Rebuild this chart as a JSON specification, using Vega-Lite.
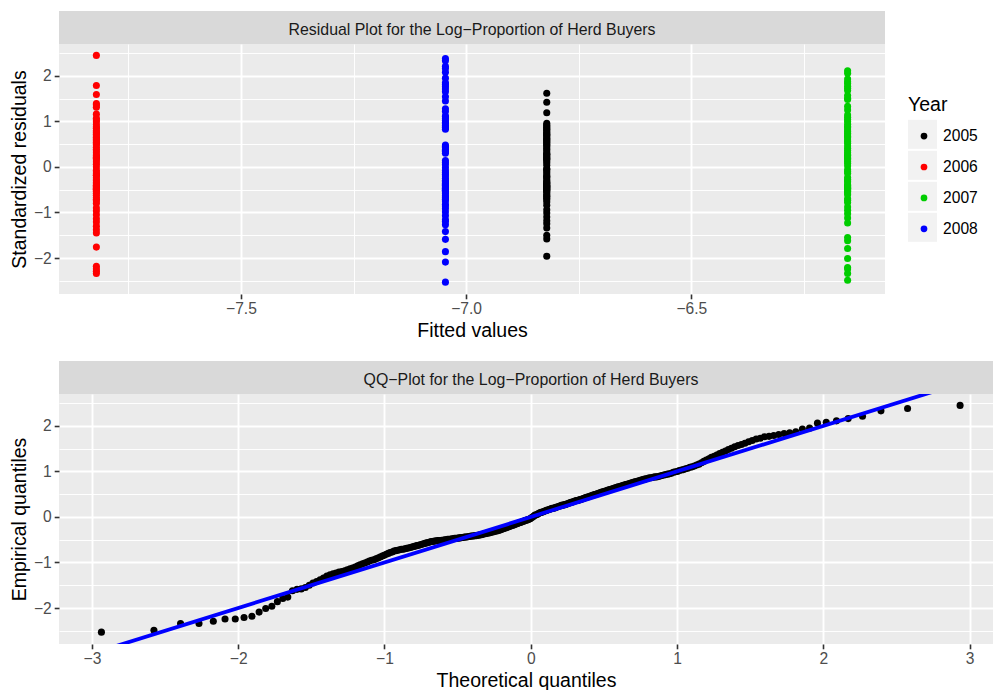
{
  "$schema": "https://vega.github.io/schema/vega-lite/v6.json",
  "background": "white",
  "padding": {"left": 9, "top": 21, "right": 0, "bottom": 0},
  "datasets": {
    "fits": [
      {"Year": "2005", "fitted": -6.821},
      {"Year": "2006", "fitted": -7.821},
      {"Year": "2007", "fitted": -6.153},
      {"Year": "2008", "fitted": -7.046}
    ],
    "qqline": [
      {"tq": -3.225, "res": -3.225},
      {"tq": 3.16, "res": 3.16}
    ],
    "resid": [
      {"Year":"2008","res":-2.53,"tq":-2.935},{"Year":"2007","res":-2.49,"tq":-2.576},{"Year":"2006","res":-2.34,"tq":-2.394},{"Year":"2007","res":-2.34,"tq":-2.268},
      {"Year":"2006","res":-2.29,"tq":-2.17},{"Year":"2007","res":-2.24,"tq":-2.09},{"Year":"2006","res":-2.24,"tq":-2.02},{"Year":"2007","res":-2.21,"tq":-1.96},
      {"Year":"2006","res":-2.18,"tq":-1.906},{"Year":"2008","res":-2.09,"tq":-1.857},{"Year":"2007","res":-2.01,"tq":-1.812},{"Year":"2005","res":-1.96,"tq":-1.77},
      {"Year":"2008","res":-1.86,"tq":-1.732},{"Year":"2007","res":-1.79,"tq":-1.695},{"Year":"2006","res":-1.76,"tq":-1.661},{"Year":"2007","res":-1.62,"tq":-1.629},
      {"Year":"2008","res":-1.59,"tq":-1.598},{"Year":"2005","res":-1.58,"tq":-1.569},{"Year":"2007","res":-1.55,"tq":-1.541},{"Year":"2005","res":-1.5,"tq":-1.514},
      {"Year":"2006","res":-1.45,"tq":-1.489},{"Year":"2008","res":-1.42,"tq":-1.464},{"Year":"2006","res":-1.38,"tq":-1.44},{"Year":"2005","res":-1.34,"tq":-1.417},
      {"Year":"2006","res":-1.3,"tq":-1.394},{"Year":"2008","res":-1.27,"tq":-1.372},{"Year":"2005","res":-1.25,"tq":-1.351},{"Year":"2007","res":-1.23,"tq":-1.331},
      {"Year":"2006","res":-1.21,"tq":-1.311},{"Year":"2008","res":-1.2,"tq":-1.291},{"Year":"2005","res":-1.18,"tq":-1.272},{"Year":"2008","res":-1.16,"tq":-1.254},
      {"Year":"2006","res":-1.14,"tq":-1.235},{"Year":"2007","res":-1.12,"tq":-1.218},{"Year":"2005","res":-1.1,"tq":-1.2},{"Year":"2008","res":-1.07,"tq":-1.183},
      {"Year":"2006","res":-1.05,"tq":-1.167},{"Year":"2007","res":-1.03,"tq":-1.15},{"Year":"2005","res":-1.01,"tq":-1.134},{"Year":"2008","res":-0.99,"tq":-1.118},
      {"Year":"2006","res":-0.97,"tq":-1.103},{"Year":"2007","res":-0.95,"tq":-1.088},{"Year":"2005","res":-0.94,"tq":-1.073},{"Year":"2008","res":-0.92,"tq":-1.058},
      {"Year":"2006","res":-0.9,"tq":-1.044},{"Year":"2007","res":-0.88,"tq":-1.03},{"Year":"2008","res":-0.86,"tq":-1.015},{"Year":"2005","res":-0.84,"tq":-1.002},
      {"Year":"2008","res":-0.82,"tq":-0.988},{"Year":"2006","res":-0.8,"tq":-0.974},{"Year":"2007","res":-0.78,"tq":-0.961},{"Year":"2005","res":-0.77,"tq":-0.948},
      {"Year":"2008","res":-0.75,"tq":-0.935},{"Year":"2006","res":-0.74,"tq":-0.922},{"Year":"2007","res":-0.73,"tq":-0.909},{"Year":"2005","res":-0.72,"tq":-0.896},
      {"Year":"2008","res":-0.71,"tq":-0.884},{"Year":"2006","res":-0.71,"tq":-0.872},{"Year":"2007","res":-0.7,"tq":-0.86},{"Year":"2005","res":-0.69,"tq":-0.848},
      {"Year":"2008","res":-0.68,"tq":-0.836},{"Year":"2006","res":-0.67,"tq":-0.824},{"Year":"2008","res":-0.66,"tq":-0.812},{"Year":"2005","res":-0.65,"tq":-0.801},
      {"Year":"2005","res":-0.64,"tq":-0.789},{"Year":"2008","res":-0.63,"tq":-0.778},{"Year":"2006","res":-0.62,"tq":-0.766},{"Year":"2007","res":-0.61,"tq":-0.755},
      {"Year":"2005","res":-0.6,"tq":-0.744},{"Year":"2008","res":-0.59,"tq":-0.733},{"Year":"2006","res":-0.58,"tq":-0.722},{"Year":"2007","res":-0.57,"tq":-0.712},
      {"Year":"2005","res":-0.56,"tq":-0.701},{"Year":"2008","res":-0.55,"tq":-0.69},{"Year":"2006","res":-0.54,"tq":-0.68},{"Year":"2007","res":-0.54,"tq":-0.669},
      {"Year":"2005","res":-0.53,"tq":-0.659},{"Year":"2008","res":-0.53,"tq":-0.649},{"Year":"2006","res":-0.52,"tq":-0.638},{"Year":"2007","res":-0.52,"tq":-0.628},
      {"Year":"2008","res":-0.52,"tq":-0.618},{"Year":"2005","res":-0.51,"tq":-0.608},{"Year":"2008","res":-0.51,"tq":-0.598},{"Year":"2006","res":-0.5,"tq":-0.588},
      {"Year":"2007","res":-0.5,"tq":-0.578},{"Year":"2005","res":-0.49,"tq":-0.568},{"Year":"2008","res":-0.49,"tq":-0.558},{"Year":"2006","res":-0.49,"tq":-0.549},
      {"Year":"2007","res":-0.48,"tq":-0.539},{"Year":"2005","res":-0.48,"tq":-0.529},{"Year":"2008","res":-0.47,"tq":-0.52},{"Year":"2006","res":-0.47,"tq":-0.51},
      {"Year":"2007","res":-0.47,"tq":-0.501},{"Year":"2005","res":-0.46,"tq":-0.491},{"Year":"2008","res":-0.46,"tq":-0.482},{"Year":"2006","res":-0.45,"tq":-0.473},
      {"Year":"2007","res":-0.45,"tq":-0.463},{"Year":"2005","res":-0.44,"tq":-0.454},{"Year":"2005","res":-0.44,"tq":-0.445},{"Year":"2008","res":-0.44,"tq":-0.436},
      {"Year":"2006","res":-0.43,"tq":-0.426},{"Year":"2007","res":-0.43,"tq":-0.417},{"Year":"2005","res":-0.42,"tq":-0.408},{"Year":"2008","res":-0.42,"tq":-0.399},
      {"Year":"2006","res":-0.42,"tq":-0.39},{"Year":"2007","res":-0.41,"tq":-0.381},{"Year":"2005","res":-0.41,"tq":-0.372},{"Year":"2008","res":-0.4,"tq":-0.364},
      {"Year":"2006","res":-0.4,"tq":-0.355},{"Year":"2007","res":-0.39,"tq":-0.346},{"Year":"2005","res":-0.39,"tq":-0.337},{"Year":"2008","res":-0.38,"tq":-0.328},
      {"Year":"2006","res":-0.37,"tq":-0.319},{"Year":"2008","res":-0.37,"tq":-0.311},{"Year":"2005","res":-0.36,"tq":-0.302},{"Year":"2005","res":-0.35,"tq":-0.293},
      {"Year":"2008","res":-0.35,"tq":-0.285},{"Year":"2006","res":-0.34,"tq":-0.276},{"Year":"2007","res":-0.33,"tq":-0.267},{"Year":"2005","res":-0.33,"tq":-0.259},
      {"Year":"2008","res":-0.32,"tq":-0.25},{"Year":"2006","res":-0.31,"tq":-0.241},{"Year":"2007","res":-0.31,"tq":-0.233},{"Year":"2005","res":-0.3,"tq":-0.224},
      {"Year":"2008","res":-0.29,"tq":-0.215},{"Year":"2006","res":-0.28,"tq":-0.207},{"Year":"2007","res":-0.27,"tq":-0.198},{"Year":"2005","res":-0.26,"tq":-0.189},
      {"Year":"2008","res":-0.25,"tq":-0.181},{"Year":"2006","res":-0.24,"tq":-0.172},{"Year":"2007","res":-0.23,"tq":-0.164},{"Year":"2005","res":-0.22,"tq":-0.155},
      {"Year":"2005","res":-0.21,"tq":-0.147},{"Year":"2008","res":-0.2,"tq":-0.138},{"Year":"2006","res":-0.19,"tq":-0.13},{"Year":"2006","res":-0.18,"tq":-0.121},
      {"Year":"2005","res":-0.17,"tq":-0.113},{"Year":"2008","res":-0.16,"tq":-0.105},{"Year":"2006","res":-0.15,"tq":-0.096},{"Year":"2007","res":-0.14,"tq":-0.088},
      {"Year":"2005","res":-0.13,"tq":-0.08},{"Year":"2008","res":-0.12,"tq":-0.071},{"Year":"2006","res":-0.11,"tq":-0.063},{"Year":"2007","res":-0.1,"tq":-0.054},
      {"Year":"2005","res":-0.09,"tq":-0.046},{"Year":"2008","res":-0.08,"tq":-0.038},{"Year":"2006","res":-0.07,"tq":-0.029},{"Year":"2007","res":-0.06,"tq":-0.021},
      {"Year":"2005","res":-0.05,"tq":-0.013},{"Year":"2005","res":-0.04,"tq":-0.004},{"Year":"2008","res":-0.02,"tq":0.004},{"Year":"2006","res":0.0,"tq":0.013},
      {"Year":"2007","res":0.02,"tq":0.021},{"Year":"2005","res":0.04,"tq":0.029},{"Year":"2008","res":0.05,"tq":0.038},{"Year":"2006","res":0.06,"tq":0.046},
      {"Year":"2007","res":0.08,"tq":0.054},{"Year":"2005","res":0.09,"tq":0.063},{"Year":"2008","res":0.1,"tq":0.071},{"Year":"2006","res":0.11,"tq":0.08},
      {"Year":"2007","res":0.12,"tq":0.088},{"Year":"2005","res":0.13,"tq":0.096},{"Year":"2008","res":0.14,"tq":0.105},{"Year":"2006","res":0.15,"tq":0.113},
      {"Year":"2007","res":0.16,"tq":0.121},{"Year":"2005","res":0.17,"tq":0.13},{"Year":"2005","res":0.18,"tq":0.138},{"Year":"2006","res":0.19,"tq":0.147},
      {"Year":"2007","res":0.19,"tq":0.155},{"Year":"2005","res":0.2,"tq":0.164},{"Year":"2006","res":0.21,"tq":0.172},{"Year":"2007","res":0.22,"tq":0.181},
      {"Year":"2005","res":0.23,"tq":0.189},{"Year":"2006","res":0.24,"tq":0.198},{"Year":"2007","res":0.25,"tq":0.207},{"Year":"2005","res":0.26,"tq":0.215},
      {"Year":"2006","res":0.26,"tq":0.224},{"Year":"2007","res":0.27,"tq":0.233},{"Year":"2005","res":0.28,"tq":0.241},{"Year":"2005","res":0.29,"tq":0.25},
      {"Year":"2008","res":0.3,"tq":0.259},{"Year":"2006","res":0.31,"tq":0.267},{"Year":"2007","res":0.32,"tq":0.276},{"Year":"2005","res":0.33,"tq":0.285},
      {"Year":"2008","res":0.34,"tq":0.293},{"Year":"2006","res":0.35,"tq":0.302},{"Year":"2008","res":0.36,"tq":0.311},{"Year":"2007","res":0.36,"tq":0.319},
      {"Year":"2005","res":0.37,"tq":0.328},{"Year":"2008","res":0.38,"tq":0.337},{"Year":"2006","res":0.39,"tq":0.346},{"Year":"2005","res":0.4,"tq":0.355},
      {"Year":"2007","res":0.41,"tq":0.364},{"Year":"2008","res":0.42,"tq":0.372},{"Year":"2006","res":0.43,"tq":0.381},{"Year":"2005","res":0.44,"tq":0.39},
      {"Year":"2008","res":0.45,"tq":0.399},{"Year":"2007","res":0.46,"tq":0.408},{"Year":"2005","res":0.47,"tq":0.417},{"Year":"2008","res":0.48,"tq":0.426},
      {"Year":"2006","res":0.49,"tq":0.436},{"Year":"2005","res":0.5,"tq":0.445},{"Year":"2006","res":0.51,"tq":0.454},{"Year":"2007","res":0.52,"tq":0.463},
      {"Year":"2005","res":0.53,"tq":0.473},{"Year":"2006","res":0.54,"tq":0.482},{"Year":"2005","res":0.55,"tq":0.491},{"Year":"2007","res":0.56,"tq":0.501},
      {"Year":"2006","res":0.57,"tq":0.51},{"Year":"2005","res":0.58,"tq":0.52},{"Year":"2007","res":0.59,"tq":0.529},{"Year":"2006","res":0.6,"tq":0.539},
      {"Year":"2005","res":0.61,"tq":0.549},{"Year":"2006","res":0.62,"tq":0.558},{"Year":"2005","res":0.63,"tq":0.568},{"Year":"2007","res":0.64,"tq":0.578},
      {"Year":"2006","res":0.65,"tq":0.588},{"Year":"2005","res":0.66,"tq":0.598},{"Year":"2007","res":0.67,"tq":0.608},{"Year":"2006","res":0.68,"tq":0.618},
      {"Year":"2005","res":0.69,"tq":0.628},{"Year":"2007","res":0.7,"tq":0.638},{"Year":"2005","res":0.71,"tq":0.649},{"Year":"2006","res":0.72,"tq":0.659},
      {"Year":"2005","res":0.73,"tq":0.669},{"Year":"2007","res":0.74,"tq":0.68},{"Year":"2006","res":0.75,"tq":0.69},{"Year":"2005","res":0.76,"tq":0.701},
      {"Year":"2006","res":0.77,"tq":0.712},{"Year":"2007","res":0.78,"tq":0.722},{"Year":"2005","res":0.79,"tq":0.733},{"Year":"2006","res":0.8,"tq":0.744},
      {"Year":"2007","res":0.81,"tq":0.755},{"Year":"2005","res":0.82,"tq":0.766},{"Year":"2008","res":0.83,"tq":0.778},{"Year":"2005","res":0.84,"tq":0.789},
      {"Year":"2006","res":0.85,"tq":0.801},{"Year":"2007","res":0.86,"tq":0.812},{"Year":"2008","res":0.86,"tq":0.824},{"Year":"2005","res":0.87,"tq":0.836},
      {"Year":"2008","res":0.88,"tq":0.848},{"Year":"2006","res":0.88,"tq":0.86},{"Year":"2007","res":0.89,"tq":0.872},{"Year":"2005","res":0.9,"tq":0.884},
      {"Year":"2008","res":0.91,"tq":0.896},{"Year":"2005","res":0.92,"tq":0.909},{"Year":"2006","res":0.93,"tq":0.922},{"Year":"2007","res":0.94,"tq":0.935},
      {"Year":"2008","res":0.95,"tq":0.948},{"Year":"2005","res":0.96,"tq":0.961},{"Year":"2008","res":0.98,"tq":0.974},{"Year":"2006","res":0.99,"tq":0.988},
      {"Year":"2007","res":1.0,"tq":1.002},{"Year":"2008","res":1.02,"tq":1.015},{"Year":"2006","res":1.03,"tq":1.03},{"Year":"2007","res":1.04,"tq":1.044},
      {"Year":"2008","res":1.06,"tq":1.058},{"Year":"2006","res":1.07,"tq":1.073},{"Year":"2007","res":1.09,"tq":1.088},{"Year":"2008","res":1.1,"tq":1.103},
      {"Year":"2008","res":1.12,"tq":1.118},{"Year":"2007","res":1.14,"tq":1.134},{"Year":"2006","res":1.16,"tq":1.15},{"Year":"2005","res":1.19,"tq":1.167},
      {"Year":"2008","res":1.22,"tq":1.183},{"Year":"2007","res":1.25,"tq":1.2},{"Year":"2008","res":1.28,"tq":1.218},{"Year":"2006","res":1.31,"tq":1.235},
      {"Year":"2007","res":1.33,"tq":1.254},{"Year":"2006","res":1.36,"tq":1.272},{"Year":"2006","res":1.39,"tq":1.291},{"Year":"2005","res":1.42,"tq":1.311},
      {"Year":"2008","res":1.45,"tq":1.331},{"Year":"2007","res":1.48,"tq":1.351},{"Year":"2007","res":1.51,"tq":1.372},{"Year":"2008","res":1.54,"tq":1.394},
      {"Year":"2007","res":1.57,"tq":1.417},{"Year":"2006","res":1.59,"tq":1.44},{"Year":"2005","res":1.62,"tq":1.464},{"Year":"2008","res":1.65,"tq":1.489},
      {"Year":"2007","res":1.68,"tq":1.514},{"Year":"2008","res":1.71,"tq":1.541},{"Year":"2007","res":1.73,"tq":1.569},{"Year":"2008","res":1.76,"tq":1.598},
      {"Year":"2007","res":1.77,"tq":1.629},{"Year":"2006","res":1.79,"tq":1.661},{"Year":"2008","res":1.81,"tq":1.695},{"Year":"2007","res":1.83,"tq":1.732},
      {"Year":"2008","res":1.85,"tq":1.77},{"Year":"2007","res":1.87,"tq":1.812},{"Year":"2007","res":1.93,"tq":1.857},{"Year":"2008","res":1.95,"tq":1.906},
      {"Year":"2007","res":2.06,"tq":1.96},{"Year":"2008","res":2.08,"tq":2.02},{"Year":"2007","res":2.11,"tq":2.09},{"Year":"2008","res":2.16,"tq":2.17},
      {"Year":"2008","res":2.21,"tq":2.268},{"Year":"2008","res":2.33,"tq":2.394},{"Year":"2008","res":2.38,"tq":2.576},{"Year":"2006","res":2.45,"tq":2.935}
    ]
  },
  "bounds": "flush",
  "spacing": 100,
  "vconcat": [
    {
      "width": 826,
      "height": 250,
      "layer": [
        {
          "data": {"name": "resid"},
          "transform": [
            {"lookup": "Year", "from": {"data": {"name": "fits"}, "key": "Year", "fields": ["fitted"]}}
          ],
          "mark": {"type": "point", "filled": true, "size": 50, "opacity": 1},
          "encoding": {
            "x": {
              "field": "fitted", "type": "quantitative",
              "scale": {"domain": [-7.904, -6.07], "nice": false, "zero": false},
              "axis": {
                "orient": "bottom",
                "title": "Fitted values",
                "values": [-7.75, -7.5, -7.25, -7, -6.75, -6.5, -6.25],
                "format": ".1f",
                "labelExpr": "abs(datum.value * 2 - round(datum.value * 2)) > 0.01 ? '' : datum.label",
                "gridWidth": {"condition": {"test": "abs(datum.value * 2 - round(datum.value * 2)) > 0.01", "value": 0.95}, "value": 1.9},
                "tickOpacity": {"condition": {"test": "abs(datum.value * 2 - round(datum.value * 2)) > 0.01", "value": 0}, "value": 1}
              }
            },
            "y": {
              "field": "res", "type": "quantitative",
              "scale": {"domain": [-2.79, 2.7], "nice": false, "zero": false},
              "axis": {
                "orient": "left",
                "title": "Standardized residuals",
                "values": [-2, -1, 0, 1, 2],
                "format": "d",
                "gridWidth": 1.9
              }
            },
            "color": {
              "field": "Year", "type": "nominal",
              "scale": {"domain": ["2005", "2006", "2007", "2008"], "range": ["#000000", "#FF0000", "#00CD00", "#0000FF"]},
              "legend": {
                "title": "Year",
                "orient": "none",
                "legendX": 849,
                "legendY": 52,
                "padding": 0,
                "zindex": 2,
                "titleFontSize": 19.5,
                "titleFontWeight": "normal",
                "titleColor": "#000000",
                "titlePadding": 12.8,
                "labelFontSize": 15.6,
                "labelColor": "#000000",
                "symbolType": "circle",
                "symbolSize": 45,
                "symbolStrokeWidth": 0,
                "symbolOffset": 8.2,
                "labelOffset": 11.3,
                "rowPadding": 13.9
              }
            }
          }
        },
        {
          "data": {"name": "fits"},
          "mark": {"type": "point", "opacity": 0, "filled": true, "color": "#F2F2F2"},
          "encoding": {
            "x": {
              "field": "fitted", "type": "quantitative",
              "scale": {"domain": [-7.904, -6.07], "nice": false, "zero": false},
              "axis": {
                "orient": "top",
                "title": "Residual Plot for the Log−Proportion of Herd Buyers",
                "domain": true, "domainColor": "#D9D9D9", "domainWidth": 33, "domainCap": "butt",
                "offset": 16.5, "translate": 0,
                "ticks": false, "labels": false, "grid": false,
                "titleFontSize": 15.9, "titleColor": "#1A1A1A", "titleFontWeight": "normal",
                "titleBaseline": "middle", "titlePadding": -2
              }
            },
            "shape": {
              "field": "Year", "type": "nominal",
              "scale": {"range": ["square"]},
              "legend": {
                "title": null,
                "orient": "none",
                "legendX": 849,
                "legendY": 75.8,
                "padding": 0,
                "zindex": 1,
                "symbolSize": 841,
                "symbolFillColor": "#F2F2F2",
                "symbolStrokeWidth": 0,
                "symbolOpacity": 1,
                "symbolOffset": 0,
                "labelExpr": "''",
                "rowPadding": 2
              }
            }
          }
        },
        {
          "data": {"name": "resid"},
          "mark": {"type": "point", "opacity": 0},
          "encoding": {
            "y": {
              "field": "res", "type": "quantitative",
              "scale": {"domain": [-2.79, 2.7], "nice": false, "zero": false},
              "axis": {
                "orient": "right", "title": null,
                "values": [-2.5, -1.5, -0.5, 0.5, 1.5, 2.5],
                "labels": false, "ticks": false, "domain": false,
                "grid": true, "gridWidth": 0.95
              }
            }
          }
        }
      ],
      "resolve": {"axis": {"x": "independent", "y": "independent"}}
    },
    {
      "width": 934,
      "height": 250,
      "layer": [
        {
          "data": {"name": "resid"},
          "mark": {"type": "point", "filled": true, "size": 50, "opacity": 1, "color": "#000000"},
          "encoding": {
            "x": {
              "field": "tq", "type": "quantitative",
              "scale": {"domain": [-3.225, 3.16], "nice": false, "zero": false},
              "axis": {
                "orient": "bottom",
                "title": "Theoretical quantiles",
                "values": [-3, -2.5, -2, -1.5, -1, -0.5, 0, 0.5, 1, 1.5, 2, 2.5, 3],
                "format": "d",
                "labelExpr": "abs(datum.value - round(datum.value)) > 0.01 ? '' : datum.label",
                "gridWidth": {"condition": {"test": "abs(datum.value - round(datum.value)) > 0.01", "value": 0.95}, "value": 1.9},
                "tickOpacity": {"condition": {"test": "abs(datum.value - round(datum.value)) > 0.01", "value": 0}, "value": 1}
              }
            },
            "y": {
              "field": "res", "type": "quantitative",
              "scale": {"domain": [-2.79, 2.7], "nice": false, "zero": false},
              "axis": {
                "orient": "left",
                "title": "Empirical quantiles",
                "values": [-2, -1, 0, 1, 2],
                "format": "d",
                "gridWidth": 1.9
              }
            }
          }
        },
        {
          "data": {"name": "qqline"},
          "mark": {"type": "line", "color": "#0000FF", "strokeWidth": 3.8, "clip": true},
          "encoding": {
            "x": {"field": "tq", "type": "quantitative", "axis": null, "scale": {"domain": [-3.225, 3.16], "nice": false, "zero": false}},
            "y": {"field": "res", "type": "quantitative", "axis": null, "scale": {"domain": [-2.79, 2.7], "nice": false, "zero": false}}
          }
        },
        {
          "data": {"name": "qqline"},
          "mark": {"type": "point", "opacity": 0},
          "encoding": {
            "x": {
              "field": "tq", "type": "quantitative",
              "scale": {"domain": [-3.225, 3.16], "nice": false, "zero": false},
              "axis": {
                "orient": "top",
                "title": "QQ−Plot for the Log−Proportion of Herd Buyers",
                "domain": true, "domainColor": "#D9D9D9", "domainWidth": 33, "domainCap": "butt",
                "offset": 16.5, "translate": 0,
                "ticks": false, "labels": false, "grid": false,
                "titleFontSize": 15.9, "titleColor": "#1A1A1A", "titleFontWeight": "normal",
                "titleBaseline": "middle", "titlePadding": -2, "titleX": 472
              }
            }
          }
        },
        {
          "data": {"name": "resid"},
          "mark": {"type": "point", "opacity": 0},
          "encoding": {
            "y": {
              "field": "res", "type": "quantitative",
              "scale": {"domain": [-2.79, 2.7], "nice": false, "zero": false},
              "axis": {
                "orient": "right", "title": null,
                "values": [-2.5, -1.5, -0.5, 0.5, 1.5, 2.5],
                "labels": false, "ticks": false, "domain": false,
                "grid": true, "gridWidth": 0.95
              }
            }
          }
        }
      ],
      "resolve": {"axis": {"x": "independent", "y": "independent"}}
    }
  ],
  "config": {
    "font": "Liberation Sans",
    "view": {"fill": "#EBEBEB", "stroke": null},
    "axis": {
      "domain": false,
      "grid": true,
      "gridColor": "#FFFFFF",
      "tickColor": "#333333",
      "tickSize": 4.8,
      "tickWidth": 1.6,
      "labelColor": "#4D4D4D",
      "labelFontSize": 15.6,
      "labelPadding": 3,
      "labelOverlap": false,
      "labelFlush": false,
      "titleColor": "#000000",
      "titleFontSize": 19.5,
      "titleFontWeight": "normal",
      "titlePadding": 4
    }
  }
}
